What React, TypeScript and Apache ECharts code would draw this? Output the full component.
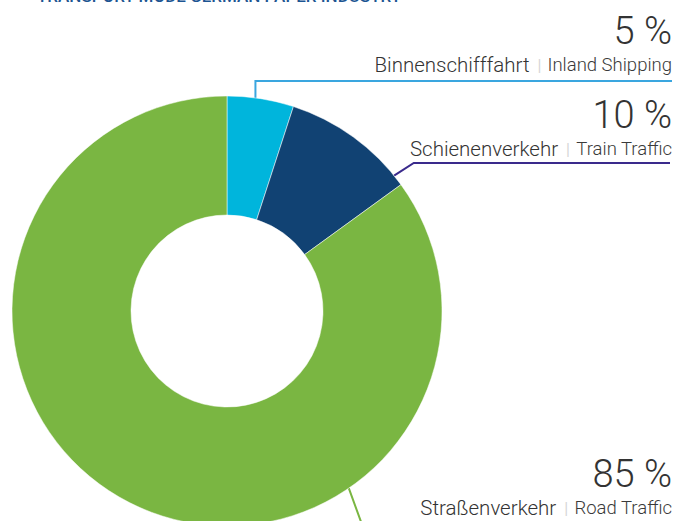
import React, { useEffect, useRef } from "react";
import * as echarts from "echarts";

// ---- Data ----
const namesDE = ["Binnenschifffahrt", "Schienenverkehr", "Straßenverkehr"];
const namesEN = ["Inland Shipping", "Train Traffic", "Road Traffic"];
const shares = [5, 10, 85];
const sliceColors = ["#00b5dc", "#114273", "#7ab642"];
const lineColors = ["#3aa6df", "#3a2a8c", "#7ab642"];
const titleText = "TRANSPORT MODE GERMAN PAPER INDUSTRY";

// ---- Layout constants ----
const W = 677;
const H = 521;
const CX = 227;
const CY = 311;
const R_IN = 96;
const R_OUT = 215;
const LABEL_RIGHT = 672;
// angle (deg clockwise from top) where each leader line leaves the ring
const anchorAngle = [7.6, 51, 145.5];
// y of horizontal rule under each label
const ruleY = [81, 163, 526];
// bottom of each label block
const labelBottom = [77, 161, 520];

function anchorPoint(i: number): number[] {
  const a = (anchorAngle[i] * Math.PI) / 180;
  return [CX + R_OUT * Math.sin(a), CY - R_OUT * Math.cos(a)];
}

function linePoints(i: number): number[][] {
  const p0 = anchorPoint(i);
  if (i === 0) {
    return [p0, [p0[0], ruleY[0]], [LABEL_RIGHT, ruleY[0]]];
  }
  if (i === 1) {
    const dy = p0[1] - ruleY[1];
    return [p0, [p0[0] + dy * 1.55, ruleY[1]], [LABEL_RIGHT - 2, ruleY[1]]];
  }
  const dy = ruleY[2] - p0[1];
  return [p0, [p0[0] + dy * 0.364, ruleY[2]], [LABEL_RIGHT, ruleY[2]]];
}

export default function App() {
  const ref = useRef<HTMLDivElement>(null);

  useEffect(() => {
    if (!ref.current) return;
    const chart = echarts.init(ref.current, null, { renderer: "svg" });
    const font = "Roboto, 'Noto Sans', sans-serif";
    const data = shares.map((v, i) => ({
      value: v,
      name: namesDE[i],
      itemStyle: { color: sliceColors[i] },
      labelLine: { lineStyle: { color: lineColors[i], width: 2 } },
    }));

    chart.setOption({
      animation: false,
      backgroundColor: "#ffffff",
      graphic: [
        {
          type: "text",
          x: 22,
          y: 4,
          style: {
            text: "•",
            font: `16px ${font}`,
            fill: "#c8c8c8",
            verticalAlign: "bottom",
          },
        },
        {
          type: "text",
          x: 37,
          y: 4,
          style: {
            text: titleText,
            font: `500 17px ${font}`,
            fill: "#1d5592",
            verticalAlign: "bottom",
          },
        },
      ],
      series: [
        {
          type: "pie",
          center: [CX, CY],
          radius: [R_IN, R_OUT],
          startAngle: 90,
          clockwise: true,
          silent: true,
          itemStyle: { borderColor: "#ffffff", borderWidth: 0.5 },
          label: {
            show: true,
            position: "outside",
            overflow: "none",
            fontFamily: font,
            formatter: (p: any) => {
              const i = p.dataIndex;
              return `{pct|${shares[i]} %}\n{de|${namesDE[i]}}{sep||}{en|${namesEN[i]}}`;
            },
            rich: {
              pct: {
                fontSize: 38,
                fontWeight: 300,
                color: "#333333",
                lineHeight: 44,
                align: "right",
                fontFamily: font,
              },
              de: {
                fontSize: 20.5,
                fontWeight: 300,
                color: "#333333",
                lineHeight: 24,
                align: "right",
                fontFamily: font,
              },
              sep: {
                fontSize: 16,
                color: "#d6d6d6",
                lineHeight: 24,
                align: "right",
                padding: [0, 6, 0, 8],
                fontFamily: font,
              },
              en: {
                fontSize: 18.5,
                fontWeight: 300,
                color: "#3a3a3a",
                lineHeight: 24,
                align: "right",
                fontFamily: font,
              },
            },
          },
          labelLine: { show: true, length: 10, length2: 10, smooth: false },
          labelLayout: (params: any) => {
            const i = params.dataIndex;
            return {
              x: LABEL_RIGHT,
              y: labelBottom[i],
              align: "right",
              verticalAlign: "bottom",
              labelLinePoints: linePoints(i),
            };
          },
          data,
        },
      ],
    });

    return () => chart.dispose();
  }, []);

  return (
    <div
      ref={ref}
      style={{ position: "fixed", left: 0, top: 0, width: W, height: H }}
    />
  );
}
